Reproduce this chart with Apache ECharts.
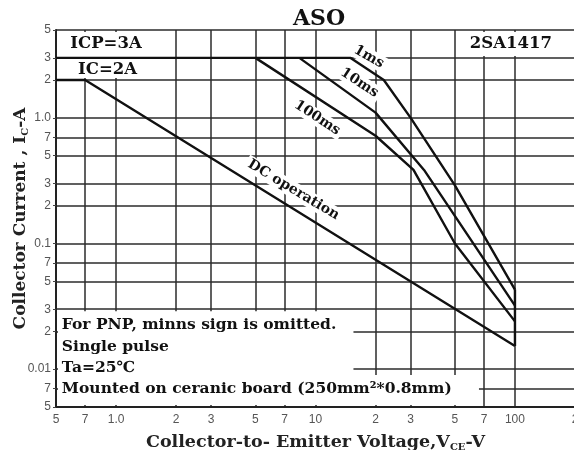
<!DOCTYPE html>
<html><head><meta charset="utf-8">
<script src="https://cdn.jsdelivr.net/npm/echarts@6/dist/echarts.min.js"></script>
<style>html,body{margin:0;padding:0;background:#fff}#c{width:574px;height:450px}</style>
</head><body><div id="c"></div>
<script>
// ---- data ----
const xTicks = [0.5,0.7,1,2,3,5,7,10,20,30,50,70,100,200];
const xTickLabels = ['5','7','1.0','2','3','5','7','10','2','3','5','7','100','2'];
const yTicks = [0.005,0.007,0.01,0.02,0.03,0.05,0.07,0.1,0.2,0.3,0.5,0.7,1,2,3,5];
const yTickLabels = ['5','7','0.01','2','3','5','7','0.1','2','3','5','7','1.0','2','3','5'];
const pulse1ms = [[0.5,3],[15,3],[22,2],[30,1.0],[50,0.29],[100,0.043]];
const pulse10ms = [[8.3,3],[20,1.1],[35,0.385],[100,0.032]];
const pulse100ms = [[5,3],[20,0.72],[31,0.385],[50,0.1],[100,0.024]];
const dcOperation = [[0.5,2],[0.7,2],[100,0.0153]];
const vceLimit = [[100,0.0153],[100,0.043]];

const SERIF = '"DejaVu Serif", "Liberation Serif", serif';
const SANS = '"Liberation Sans", Arial, sans-serif';

function labelFor(ticks, labels, v) {
  let best = 0, bd = Infinity;
  for (let i = 0; i < ticks.length; i++) {
    const d = Math.abs(Math.log10(ticks[i]) - Math.log10(v));
    if (d < bd) { bd = d; best = i; }
  }
  return bd < 0.01 ? labels[best] : '';
}

const chart = echarts.init(document.getElementById('c'), null, {renderer: 'canvas'});
const lineStyle = {color: '#111', width: 2.4};
function mkSeries(name, data) {
  return {name, type: 'line', data, symbol: 'none', lineStyle, z: 3, animation: false};
}
const subRich = {sub: {fontFamily: SERIF, fontWeight: 'bold', fontSize: 10, color: '#222', verticalAlign: 'bottom', padding: [9,0,0,0]}};
chart.setOption({
  animation: false,
  backgroundColor: '#fff',
  title: {
    text: 'ASO', left: 288, top: 3,
    textStyle: {fontFamily: SERIF, fontWeight: 'bold', fontSize: 22, color: '#111'}
  },
  grid: {left: 56, right: -1, top: 30, bottom: 43, containLabel: false, outerBoundsMode: 'none'},
  xAxis: {
    type: 'log', min: 0.5, max: 200,
    axisLine: {lineStyle: {color: '#222', width: 2}},
    axisTick: {show: false, customValues: xTicks},
    axisLabel: {customValues: xTicks, color: '#555', fontFamily: SANS, fontSize: 12, margin: 7,
      formatter: v => labelFor(xTicks, xTickLabels, v)},
    splitLine: {show: true, lineStyle: {color: '#2b2b2b', width: 1.5}},
    minorSplitLine: {show: false},
    name: 'Collector-to- Emitter Voltage,V{sub|CE}-V',
    nameLocation: 'middle', nameGap: 26, nameMoveOverlap: false,
    nameTextStyle: {fontFamily: SERIF, fontWeight: 'bold', fontSize: 17.5, color: '#222', rich: subRich}
  },
  yAxis: {
    type: 'log', min: 0.005, max: 5,
    axisLine: {show: true, lineStyle: {color: '#222', width: 2}},
    axisTick: {show: true, length: 3, customValues: yTicks, lineStyle: {color: '#444'}},
    axisLabel: {customValues: yTicks, color: '#555', fontFamily: SANS, fontSize: 12, margin: 5,
      formatter: v => labelFor(yTicks, yTickLabels, v)},
    splitLine: {show: true, lineStyle: {color: '#2b2b2b', width: 1.5}},
    name: 'Collector Current , I{sub|C}-A',
    nameLocation: 'middle', nameGap: 26, nameRotate: 90, nameMoveOverlap: false,
    nameTextStyle: {fontFamily: SERIF, fontWeight: 'bold', fontSize: 17, color: '#222', rich: subRich}
  },
  series: [
    mkSeries('1ms', pulse1ms),
    mkSeries('10ms', pulse10ms),
    mkSeries('100ms', pulse100ms),
    mkSeries('DC', dcOperation),
    mkSeries('limit', vceLimit)
  ]
});

// annotations in data coordinates
const P = (x, y) => chart.convertToPixel({gridIndex: 0}, [x, y]);
function box(x0, x1, y0, y1, inset) {
  const a = P(x0, y1), b = P(x1, y0);
  const [l, t, r, bt] = inset;
  return {type: 'rect', z: 1, silent: true,
    shape: {x: a[0] + l, y: a[1] + t, width: b[0] - a[0] - l - r, height: b[1] - a[1] - t - bt},
    style: {fill: '#fff'}};
}
function txt(text, x, y, opts) {
  const p = P(x, y);
  return {type: 'text', z: 1, silent: true, x: p[0], y: p[1], rotation: opts.rot || 0,
    style: {text, x: 0, y: 0, fill: '#111', font: `bold ${opts.size || 14}px ${SERIF}`,
      align: opts.align || 'center', verticalAlign: opts.va || 'middle',
      backgroundColor: opts.bg ? '#fff' : null, padding: opts.bg ? [1, 3] : 0,
      lineHeight: opts.lh}};
}
const notes = 'For PNP, minns sign is omitted.\nSingle pulse\nTa=25℃\nMounted on ceranic board (250mm²*0.8mm)';
chart.setOption({
  graphic: [
    box(0.5, 1.6, 2, 5, [2, 2, 0, 2]),
    box(62, 200, 3, 5, [0, 2, 0, 2]),
    box(0.5, 15.5, 0.005, 0.03, [2, 2, 0, 2]),
    box(0.5, 66, 0.005, 0.009, [2, 0, 0, 2]),
    txt('ICP=3A', 0.59, 3.9, {align: 'left', size: 16.5}),
    txt('IC=2A', 0.645, 2.42, {align: 'left', size: 16.5}),
    txt('2SA1417', 59.4, 3.9, {align: 'left', size: 16.5}),
    txt('1ms', 18.5, 3.06, {rot: -0.52, bg: true, size: 14}),
    txt('10ms', 16.6, 1.9, {rot: -0.58, bg: true, size: 14}),
    txt('100ms', 10.2, 1.0, {rot: -0.58, bg: true, size: 14}),
    txt('DC operation', 7.75, 0.267, {rot: -0.54, bg: true, size: 14}),
    txt(notes, 0.535, 0.0272, {align: 'left', va: 'top', size: 15.5, lh: 21.3})
  ]
});
</script></body></html>
